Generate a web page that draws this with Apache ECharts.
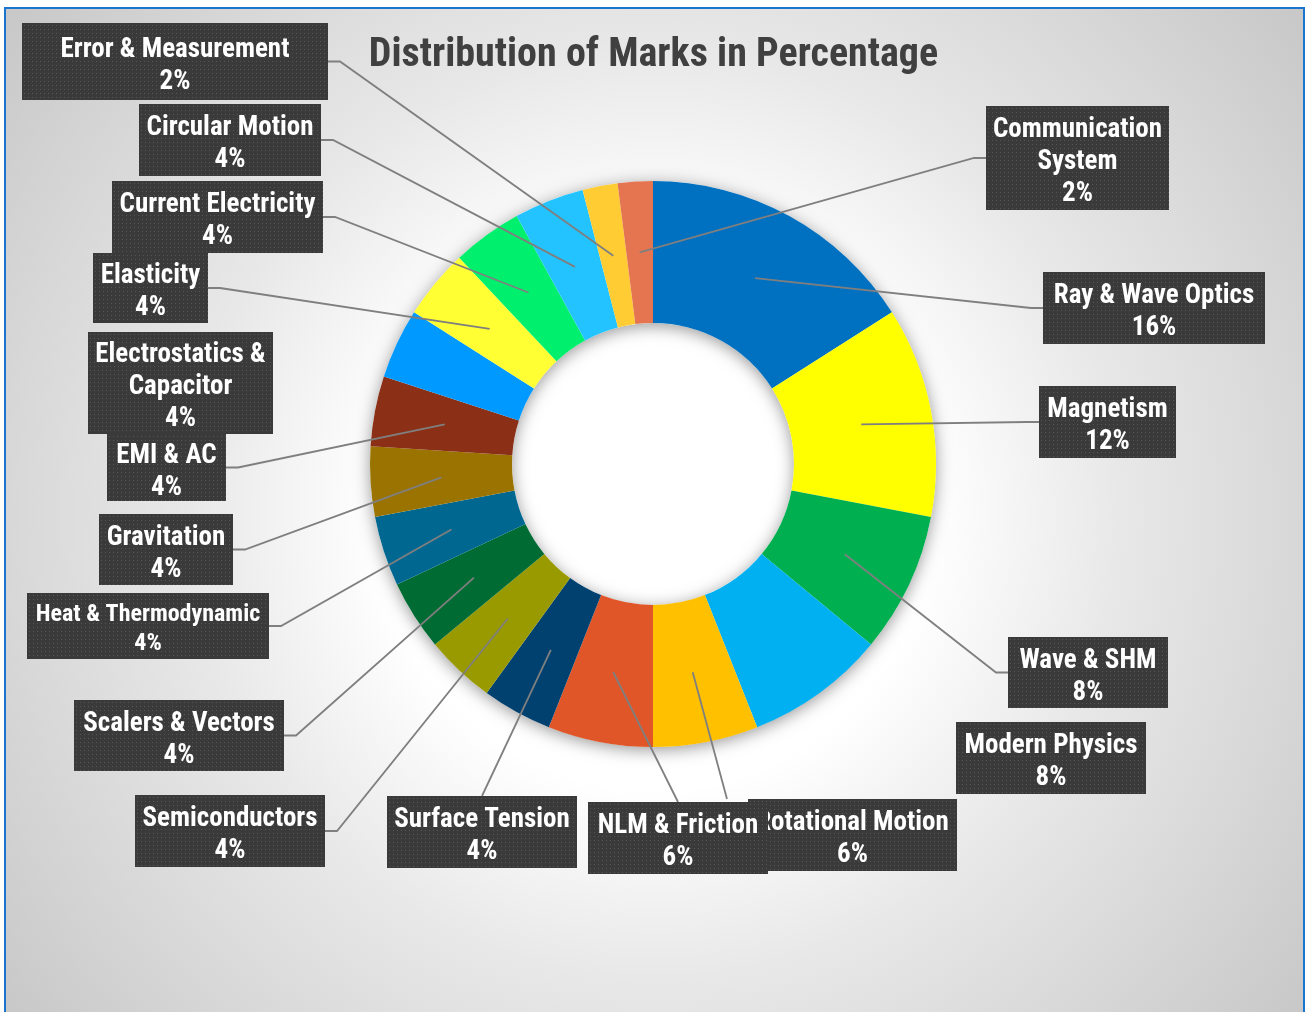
<!DOCTYPE html>
<html>
<head>
<meta charset="utf-8">
<script src="https://cdn.jsdelivr.net/npm/echarts@6/dist/echarts.min.js"></script>
<style>
html, body { margin: 0; padding: 0; background: #fff; }
#charts { width: 1307px; height: 1012px; }
</style>
</head>
<body>
<div id="charts"></div>
<script>
// topics, clockwise from 12 o'clock
var topics = [
    'Ray & Wave Optics', 'Magnetism', 'Wave & SHM', 'Modern Physics',
    'Rotational Motion', 'NLM & Friction', 'Surface Tension', 'Semiconductors',
    'Scalers & Vectors', 'Heat & Thermodynamic', 'Gravitation', 'EMI & AC',
    'Electrostatics & Capacitor', 'Elasticity', 'Current Electricity',
    'Circular Motion', 'Error & Measurement', 'Communication System'
];
// share of marks, in %
var marks = [16, 12, 8, 8, 6, 6, 4, 4, 4, 4, 4, 4, 4, 4, 4, 4, 2, 2];
var sliceColors = [
    '#0070c0', '#ffff00', '#00b050', '#00b0f0', '#ffc000', '#e05628',
    '#00416f', '#999900', '#006b33', '#006890', '#9a7300', '#8b2f16',
    '#0099ff', '#ffff33', '#00f06e', '#23c3ff', '#ffcc33', '#e47550'
];

// label boxes: centre x, centre y, width, height, side the leader meets
// ('l' left, 'r' right, 't' top, 'n' no leader), font size, leader x shift, wrap
var labelBoxes = [
    [1154, 308, 222, 72, 'l'],
    [1107.5, 422, 137, 72, 'l'],
    [1088, 672.5, 160, 71, 'l'],
    [1051, 758, 190, 72, 'n'],
    [852.5, 835, 209, 72, 't', 0, -125.5],
    [678, 838, 180, 72, 't'],
    [482, 832, 190, 72, 't'],
    [230, 831, 190, 72, 'r'],
    [179, 735.5, 210, 71, 'r'],
    [148, 626, 242, 66, 'r', 24],
    [166, 549.5, 134, 71, 'r'],
    [166.5, 467.5, 119, 67, 'r'],
    [180.5, 383, 185, 102, 'n', 0, 0, true],
    [150.5, 288, 115, 70, 'r'],
    [217.5, 217, 211, 72, 'r'],
    [230, 140, 182, 72, 'r'],
    [175, 61.5, 306, 77, 'r'],
    [1077.5, 158, 183, 104, 'l', 0, 0, true]
];

var CX = 653, CY = 464, R_IN = 141, R_OUT = 283;
var FONT = "'Liberation Sans Narrow', 'Roboto Condensed', 'DejaVu Sans Condensed', sans-serif";

function dotted(w, h) {
    var c = document.createElement('canvas');
    c.width = w; c.height = h;
    var g = c.getContext('2d');
    g.fillStyle = '#3a3a3a';
    g.fillRect(0, 0, w, h);
    g.fillStyle = '#565656';
    for (var x = 2; x < w; x += 4) {
        for (var y = 2; y < h; y += 4) g.fillRect(x, y, 1, 1);
    }
    return c;
}

var total = marks.reduce(function (a, b) { return a + b; }, 0);
// where each leader line starts: middle of the slice
function leaderStart(i) {
    var before = 0;
    for (var k = 0; k < i; k++) before += marks[k];
    var a = (before + marks[i] / 2) / total * Math.PI * 2;
    var r = (R_IN + R_OUT) / 2;
    return [CX + r * Math.sin(a), CY - r * Math.cos(a)];
}

var sliceData = topics.map(function (name, i) {
    return { name: name, value: marks[i], itemStyle: { color: sliceColors[i] } };
});

// same slices again, see-through, only to carry the labels and leaders above the ring
var labelData = topics.map(function (name, i) {
    var b = labelBoxes[i];
    var fs = b[5] || 27;
    var lh = fs === 27 ? 32 : 29;
    var lines = b[7] ? 3 : 2;
    // text sits a little low in the box, as in the original
    var padTop = Math.round((b[3] - lines * lh) / 2 + (fs === 27 ? 4 : 3));
    return {
        name: name,
        value: marks[i],
        label: {
            width: b[2], height: b[3] - padTop,
            padding: [padTop, 0, 0, 0],
            fontSize: fs, lineHeight: lh,
            backgroundColor: { image: dotted(b[2], b[3]) }
        },
        labelLine: { show: b[4] !== 'n' }
    };
});

var myChart = echarts.init(document.getElementById('charts'));
var option = {
    animation: false,
    backgroundColor: '#ffffff',
    title: {
        text: 'Distribution of Marks in Percentage',
        left: 'center',
        top: 31,
        textStyle: { fontFamily: FONT, fontSize: 40, fontWeight: 'bold', color: '#404040' }
    },
    graphic: [{
        type: 'rect',
        z: -10,
        silent: true,
        shape: { x: 5, y: 8, width: 1299, height: 1012 },
        style: {
            fill: new echarts.graphic.RadialGradient(0.5, 0.5, 0.85, [
                { offset: 0, color: '#ffffff' },
                { offset: 0.32, color: '#ffffff' },
                { offset: 0.54, color: '#e8e8e8' },
                { offset: 1, color: '#c4c4c4' }
            ]),
            stroke: '#1b74d0',
            lineWidth: 2
        }
    }],
    series: [
        {
            // soft shadow under the ring
            type: 'pie',
            silent: true,
            z: 1,
            center: [CX, CY],
            radius: [R_IN, R_OUT],
            label: { show: false },
            labelLine: { show: false },
            itemStyle: {
                color: '#ffffff',
                shadowBlur: 16,
                shadowColor: 'rgba(0,0,0,0.4)',
                shadowOffsetY: 3
            },
            data: [{ value: 1, name: 'ring' }]
        },
        {
            type: 'pie',
            z: 2,
            center: [CX, CY],
            radius: [R_IN, R_OUT],
            startAngle: 90,
            label: { show: false },
            labelLine: { show: false },
            data: sliceData
        },
        {
            type: 'pie',
            z: 3,
            silent: true,
            center: [CX, CY],
            radius: [R_IN, R_OUT],
            startAngle: 90,
            avoidLabelOverlap: false,
            itemStyle: { color: 'rgba(0,0,0,0)' },
            label: {
                show: true,
                position: 'outside',
                color: '#ffffff',
                fontFamily: FONT,
                fontWeight: 'bold',
                align: 'center',
                verticalAlign: 'top',
                shadowBlur: 4,
                shadowOffsetX: 3,
                shadowOffsetY: 3,
                shadowColor: 'rgba(0,0,0,0.45)',
                formatter: function (p) {
                    var b = labelBoxes[p.dataIndex];
                    var name = p.name;
                    if (b[7]) {
                        var cut = name.lastIndexOf(' ');
                        name = name.slice(0, cut) + '\n' + name.slice(cut + 1);
                    }
                    return name + '\n' + p.value + '%';
                }
            },
            labelLine: {
                show: true,
                showAbove: true,
                lineStyle: { color: '#7f7f7f', width: 1.8 }
            },
            labelLayout: function (p) {
                var b = labelBoxes[p.dataIndex];
                var s = leaderStart(p.dataIndex);
                var cx = b[0], cy = b[1], w = b[2], h = b[3];
                var pts;
                if (b[4] === 'l') {
                    pts = [s, [cx - w / 2 - 12, cy], [cx - w / 2, cy]];
                } else if (b[4] === 'r') {
                    pts = [s, [cx + w / 2 + 12, cy], [cx + w / 2, cy]];
                } else {
                    var ex = cx + (b[6] || 0);
                    pts = [s, [ex, cy - h / 2], [ex, cy - h / 2]];
                }
                return {
                    x: cx, y: cy - h / 2,
                    align: 'center', verticalAlign: 'top',
                    hideOverlap: false,
                    labelLinePoints: pts
                };
            },
            data: labelData
        }
    ]
};
myChart.setOption(option);
</script>
</body>
</html>
